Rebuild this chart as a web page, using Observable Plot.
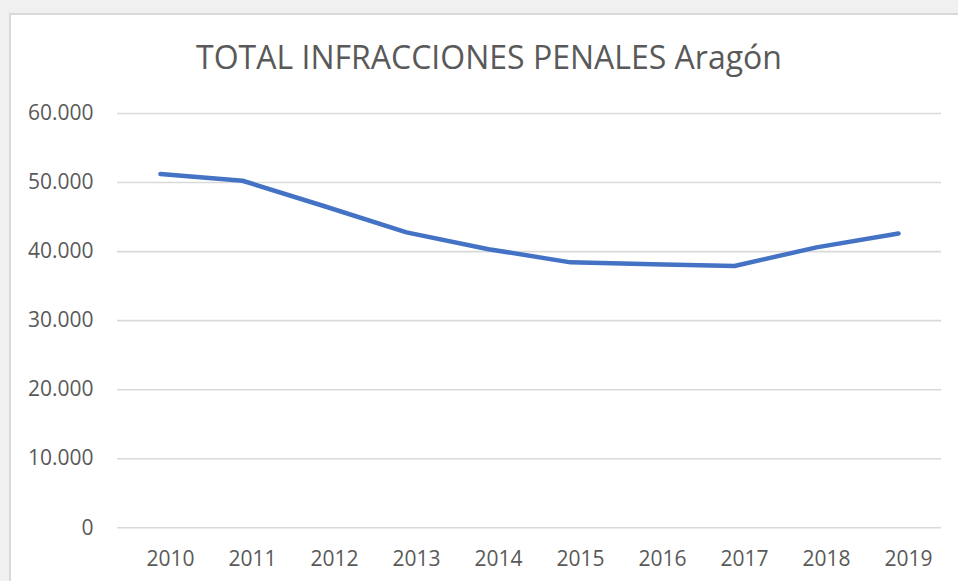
<!DOCTYPE html>
<html>
<head>
<meta charset="utf-8">
<script src="https://cdn.jsdelivr.net/npm/d3@7"></script>
<script src="https://cdn.jsdelivr.net/npm/@observablehq/plot@0.6"></script>
<style>
  html, body { margin: 0; padding: 0; background: #f0f0f0; width: 958px; height: 581px; overflow: hidden; }
  #frame { position: absolute; left: 9px; top: 13px; width: 960px; height: 580px; background: #fff; border-left: 2px solid #d9d9d9; border-top: 2px solid #d9d9d9; }
  #title { position: absolute; left: 0; top: 41px; width: 978px; text-align: center; font-family: "Open Sans", sans-serif; font-size: 32px; color: #595959; white-space: nowrap; line-height: 1; }
  #chart { position: absolute; left: 0; top: 80px; }
</style>
</head>
<body>
<div id="frame"></div>
<div id="title">TOTAL INFRACCIONES PENALES Aragón</div>
<div id="chart"></div>
<script>
const years = ["2010","2011","2012","2013","2014","2015","2016","2017","2018","2019"];
const totals = [51230, 50260, 46570, 42780, 40350, 38440, 38180, 37920, 40610, 42630];
const yTicks = [0, 10000, 20000, 30000, 40000, 50000, 60000];

const data = years.map((y, i) => ({year: y, value: totals[i]}));
const es = d3.formatLocale({decimal: ",", thousands: ".", grouping: [3], currency: ["", "€"]});
const fmt = es.format(",");

const chart = Plot.plot({
  width: 958,
  height: 501,
  marginLeft: 117,
  marginRight: 17,
  marginTop: 33,
  marginBottom: 53.7,
  style: {fontFamily: "'Open Sans', sans-serif", fontSize: "21px", color: "#595959", background: "transparent", overflow: "visible"},
  x: {type: "point", domain: years, padding: 0.5, label: null, tickSize: 0, tickPadding: 23},
  y: {domain: [0, 60000], ticks: yTicks, tickFormat: d => fmt(d), label: null, tickSize: 0, tickPadding: 24},
  marks: [
    Plot.ruleY(yTicks, {stroke: "#d9d9d9", strokeWidth: 1.6}),
    Plot.axisX({tickSize: 0, tickPadding: 23, dx: 10, fill: "#595959"}),
    Plot.axisY({ticks: yTicks, tickFormat: d => fmt(d), tickSize: 0, tickPadding: 24, fill: "#595959"}),
    Plot.line(data, {x: "year", y: "value", stroke: "#4472C4", strokeWidth: 4.5, strokeLinecap: "round", strokeLinejoin: "round"})
  ]
});
document.getElementById("chart").appendChild(chart);
</script>
</body>
</html>
